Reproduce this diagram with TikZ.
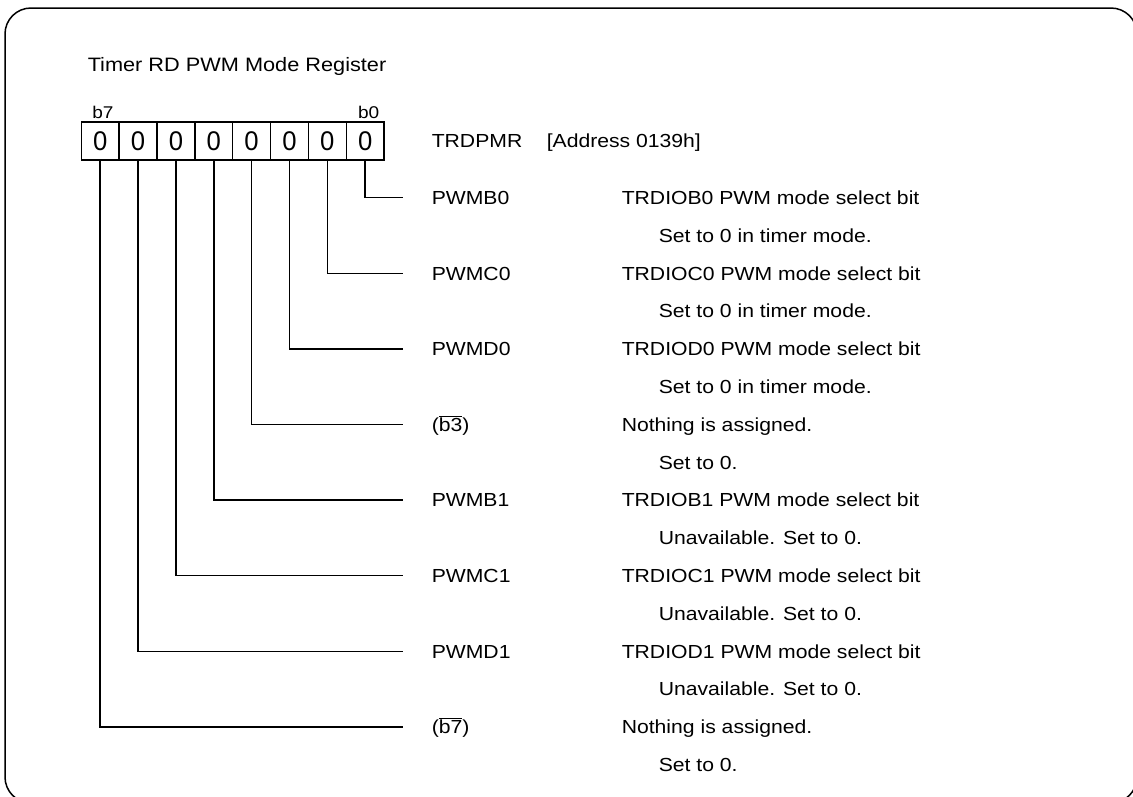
\documentclass[tikz,border=0pt]{standalone}
\usepackage{fontspec}
\setmainfont{Liberation Sans}[FakeStretch=1.12]
\newfontfamily\digitfont{Liberation Sans}[FakeStretch=0.95]
\begin{document}
\begin{tikzpicture}[x=1pt,y=-1pt,
  line width=1.5pt,
  txt/.style={font=\fontsize{18.9}{20}\selectfont, inner sep=0pt, text height=13.5pt, text depth=0pt, anchor=west},
  bitname/.style={txt, inner xsep=28pt},
  cell/.style={draw, line width=1.4pt, minimum width=37.85pt, minimum height=38pt, inner sep=0pt,
    font=\digitfont\fontsize{27}{28}\selectfont},
  conn/.style={line width=1.5pt},
  small/.style={font=\fontsize{17}{18}\selectfont, inner sep=0pt, anchor=base}]
\clip (0,0) rectangle (1133,796);
\draw[line width=1.5pt, rounded corners=26pt] (5,8) rectangle (1137,803);

\node[txt, font=\fontsize{19.4}{21}\selectfont] (title) at (87,65) {Timer RD PWM Mode Register};

% register cells, bit 7 on the left
\foreach \k in {0,...,7} {
  \pgfmathsetmacro{\cx}{81.3+37.85*(7-\k)+18.925}
  \node[cell] (c\k) at (\cx,141) {0};
}
\node[small, anchor=base west] (lb7) at (91.5,118.5) {b7};
\node[small, anchor=base east] (lb0) at (380,118.5) {b0};

\node[txt] (reg) at (431,141) {TRDPMR};
\node[txt] (addr) at (546,141) {[Address 0139h]};

% bit names and descriptions
\newcommand{\bitentry}[4]{%
  \pgfmathsetmacro{\ly}{197.7+75.6*#1}
  \node[bitname] (n#1) at (403,\ly) {#2};
  \node[txt] (d#1) at (621,\ly) {#3};
  \node[txt] (e#1) at (658,\ly+37.8) {#4};
  \draw[conn] (c#1.south) |- (n#1.west);
}
\bitentry{0}{PWMB0}{TRDIOB0 PWM mode select bit}{Set to 0 in timer mode.}
\bitentry{1}{PWMC0}{TRDIOC0 PWM mode select bit}{Set to 0 in timer mode.}
\bitentry{2}{PWMD0}{TRDIOD0 PWM mode select bit}{Set to 0 in timer mode.}
\bitentry{3}{($\overline{\mbox{b3}}$)}{Nothing is assigned.}{Set to 0.}
\bitentry{4}{PWMB1}{TRDIOB1 PWM mode select bit}{Unavailable. Set to 0.}
\bitentry{5}{PWMC1}{TRDIOC1 PWM mode select bit}{Unavailable. Set to 0.}
\bitentry{6}{PWMD1}{TRDIOD1 PWM mode select bit}{Unavailable. Set to 0.}
\bitentry{7}{($\overline{\mbox{b7}}$)}{Nothing is assigned.}{Set to 0.}
\end{tikzpicture}
\end{document}
